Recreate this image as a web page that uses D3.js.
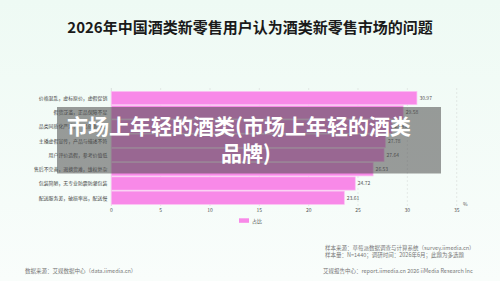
<!DOCTYPE html>
<html>
<head>
<meta charset="utf-8">
<script src="https://cdn.jsdelivr.net/npm/d3@7"></script>
<style>
  body { margin: 0; }
  svg { display: block; font-family: "Noto Sans CJK SC", "Noto Sans", sans-serif; }
</style>
</head>
<body>
<svg id="chart"></svg>
<script>
const categories = [
  "价格混乱，虚标原价，虚假促销",
  "假货泛滥，正品保障不足",
  "品类同质化严重，产品创新不足",
  "主播虚假宣传，产品与描述不符",
  "用户评价造假，参考价值低",
  "售后不完善，退换货难，维权复杂",
  "包装简陋，无专业防震防潮包装",
  "配送服务差，破损率高，配送慢"
]
const shares = [30.97, 29.58, 28.45, 27.78, 27.64, 26.53, 24.72, 23.61]
const xTicks = [0, 5, 10, 15, 20, 25, 30, 35]

const width = 500, height = 281

const svg = d3.select("#chart")
  .attr("width", width)
  .attr("height", height)

// background
const defs = svg.append("defs")
const grad = defs.append("linearGradient")
  .attr("id", "bg").attr("x1", 0).attr("y1", 0).attr("x2", 0).attr("y2", 1)
grad.append("stop").attr("offset", "0%").attr("stop-color", "#eefaf4")
grad.append("stop").attr("offset", "100%").attr("stop-color", "#f9fdfb")
svg.append("rect").attr("width", width).attr("height", height).attr("fill", "url(#bg)")

svg.append("text")
  .attr("x", 250).attr("y", 33)
  .attr("text-anchor", "middle")
  .attr("font-size", 15).attr("font-weight", "bold")
  .attr("fill", "#1a1a1a")
  .text("2026年中国酒类新零售用户认为酒类新零售市场的问题")

const x = d3.scaleLinear().domain([0, 35]).range([111.3, 456.7])
const y = d3.scaleBand().domain(categories).range([91, 204.8]).paddingInner(0.07).paddingOuter(0.03)

// grid
svg.append("g").selectAll("line")
  .data(xTicks.slice(1))
  .enter().append("line")
  .attr("x1", d => x(d)).attr("x2", d => x(d))
  .attr("y1", 88).attr("y2", 206)
  .attr("stroke", "#d8dcda")
  .attr("stroke-width", 0.6)
  .attr("stroke-dasharray", "2,2")

svg.append("line")
  .attr("x1", x(0)).attr("x2", x(0))
  .attr("y1", 88).attr("y2", 206)
  .attr("stroke", "#c8cccb").attr("stroke-width", 0.6)

// bars
svg.append("g").selectAll("rect")
  .data(shares)
  .enter().append("rect")
  .attr("x", x(0))
  .attr("y", (d, i) => y(categories[i]))
  .attr("width", d => x(d) - x(0))
  .attr("height", y.bandwidth())
  .attr("fill", "#f889e8")
  .attr("stroke", "#fcc0f3")
  .attr("stroke-width", 0.7)

// value labels
svg.append("g").selectAll("text")
  .data(shares)
  .enter().append("text")
  .attr("x", d => x(d) + 2.5)
  .attr("y", (d, i) => y(categories[i]) + y.bandwidth() / 2 + 1.8)
  .attr("font-size", 5).attr("fill", "#555")
  .text(d => d.toFixed(2))

// category labels
svg.append("g").selectAll("text")
  .data(categories)
  .enter().append("text")
  .attr("x", x(0) - 4)
  .attr("y", d => y(d) + y.bandwidth() / 2 + 1.8)
  .attr("text-anchor", "end")
  .attr("font-size", 4.9).attr("fill", "#444")
  .text(d => d)

// x axis ticks
svg.append("g").selectAll("text")
  .data(xTicks)
  .enter().append("text")
  .attr("x", d => x(d))
  .attr("y", 212)
  .attr("text-anchor", "middle")
  .attr("font-size", 5).attr("fill", "#555")
  .text(d => d)

svg.append("text")
  .attr("x", 463).attr("y", 206)
  .attr("font-size", 5).attr("fill", "#555")
  .text("%")

// legend
svg.append("rect")
  .attr("x", 239).attr("y", 218.3).attr("width", 10).attr("height", 4.5)
  .attr("fill", "#f889e8")
svg.append("text")
  .attr("x", 252).attr("y", 222.5)
  .attr("font-size", 5).attr("fill", "#444")
  .text("占比")

// footer
const foot = svg.append("g").attr("font-size", 5.5).attr("fill", "#777")
foot.append("text").attr("x", 325).attr("y", 250).text("样本来源：草莓派数据调查与计算系统（survey.iimedia.cn）")
foot.append("text").attr("x", 325).attr("y", 257).text("样本量：N=1440；调研时间：2026年6月；此题为多选题")
foot.append("text").attr("x", 25).attr("y", 273).text("数据来源：艾媒数据中心（data.iimedia.cn）")
foot.append("text").attr("x", 323).attr("y", 273).text("艾媒报告中心：report.iimedia.cn   2026 iiMedia Research Inc")

// overlay caption
svg.append("rect")
  .attr("x", 57).attr("y", 107).attr("width", 384).attr("height", 66.5)
  .attr("fill", "rgba(75,75,75,0.55)")
svg.append("text")
  .attr("x", 67).attr("y", 134)
  .attr("font-size", 21).attr("font-weight", "bold").attr("fill", "#fff")
  .text("市场上年轻的酒类(市场上年轻的酒类")
svg.append("text")
  .attr("x", 246).attr("y", 161)
  .attr("text-anchor", "middle")
  .attr("font-size", 21).attr("font-weight", "bold").attr("fill", "#fff")
  .text("品牌)")
</script>
</body>
</html>
